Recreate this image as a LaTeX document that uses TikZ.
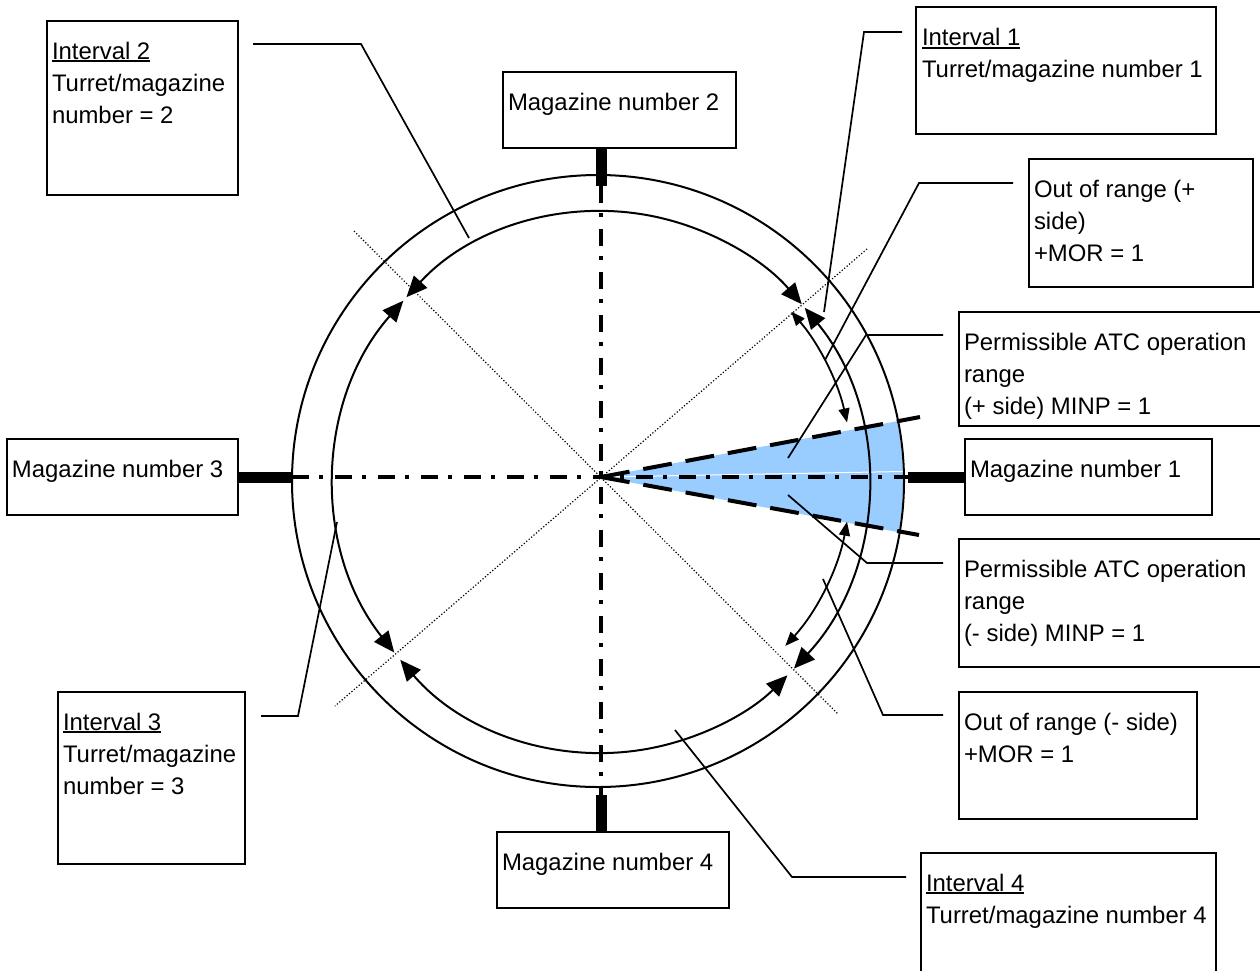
\documentclass[tikz,border=0pt]{standalone}
\usepackage{fontspec}
\setmainfont{Liberation Sans}
\usetikzlibrary{arrows.meta}
\definecolor{wedgeblue}{RGB}{153,204,255}
\newcommand{\ulr}[1]{\setbox0=\hbox{#1}\makebox[0pt][l]{\rule[-3pt]{\wd0}{1.8pt}}\box0}
\begin{document}
\begin{tikzpicture}[x=1pt,y=1pt,
  box/.style={draw,line width=1.8pt,anchor=north west,inner sep=0pt,outer sep=0pt},
  txt/.style={anchor=north west,inner sep=0pt,outer sep=0pt,align=left,font=\fontsize{23.9}{32}\selectfont},
  lead/.style={line width=1.7pt},
  ring/.style={line width=2pt},
  bigarr/.style={ring,{Triangle[length=21pt,width=18pt]}-{Triangle[length=21pt,width=18pt]}},
  smallarr/.style={line width=1.8pt,{Triangle[length=14pt,width=11pt]}-{Triangle[length=14pt,width=11pt]}},
  axisline/.style={line width=4pt,dash pattern=on 17pt off 10pt on 4pt off 12pt},
  limitline/.style={line width=4pt,dash pattern=on 29pt off 14pt},
  diag/.style={line width=1.2pt,dash pattern=on 1.2pt off 2pt},
  magbar/.style={line width=11pt},
]
\useasboundingbox (0,-970) rectangle (1260,0);
\coordinate (C) at (601,-482);
\coordinate (O) at (598,-481);
\coordinate (M) at (601,-477);

% blue wedge
\begin{scope}
  \clip (O) circle (305);
  \fill[wedgeblue] (M) -- (930,-415) -- (930,-538) -- cycle;
  \draw[white,line width=1pt] (M) -- (930,-471);
\end{scope}

% outer circle
\draw[ring] (O) circle (306);

% interval arcs
\draw[bigarr] ([shift={(137:266 and 271)}]C) arc[start angle=137,end angle=41,x radius=266,y radius=271];
\draw[bigarr] ([shift={(40:266 and 271)}]C) arc[start angle=40,end angle=-43.5,x radius=266,y radius=271];
\draw[bigarr] ([shift={(138:266 and 271)}]C) arc[start angle=138,end angle=219,x radius=266,y radius=271];
\draw[bigarr] ([shift={(221:266 and 271)}]C) arc[start angle=221,end angle=314.5,x radius=266,y radius=271];

% out of range arcs
\draw[smallarr] ([shift={(41:252)}]M) arc[start angle=41,end angle=12.5,radius=252];
\draw[smallarr] ([shift={(-10.3:250)}]M) arc[start angle=-10.3,end angle=-42.5,radius=250];

% dotted diagonals
\draw[diag] (354,-231) -- (838,-714);
\draw[diag] (867,-249) -- (335,-706);

% axes
\draw[axisline] (601,-186) -- (601,-795);
\draw[axisline] (292,-477) -- (908,-477);

% limit lines
\draw[limitline] (M) -- (920,-417);
\draw[limitline] (M) -- (919,-535);

% boxes
\node[box,minimum width=191pt,minimum height=174pt] (i2) at (47,-21) {};
\node[box,minimum width=300pt,minimum height=127pt] (i1) at (916,-7) {};
\node[box,minimum width=224pt,minimum height=128pt] (op) at (1029,-159) {};
\node[box,minimum width=305pt,minimum height=114pt] (pp) at (959,-312) {};
\node[box,minimum width=233pt,minimum height=76pt] (m2) at (503,-72) {};
\node[box,minimum width=247pt,minimum height=76pt] (m1) at (965,-439) {};
\node[box,minimum width=231pt,minimum height=76pt] (m3) at (7,-439) {};
\node[box,minimum width=232pt,minimum height=76pt] (m4) at (497,-832) {};
\node[box,minimum width=305pt,minimum height=128pt] (pm) at (959,-539) {};
\node[box,minimum width=238pt,minimum height=127pt] (om) at (959,-692) {};
\node[box,minimum width=187pt,minimum height=172pt] (i3) at (58,-692) {};
\node[box,minimum width=295pt,minimum height=137pt] (i4) at (921,-853) {};

% texts
\node[txt] (i2t) at ([shift={(5,-15.6)}]i2.north west) {\strut\ulr{Interval 2}\\\strut Turret/magazine\\\strut number = 2};
\node[txt] (i1t) at ([shift={(6,-16.5)}]i1.north west) {\strut\ulr{Interval 1}\\\strut Turret/magazine number 1};
\node[txt] (opt) at ([shift={(5,-16.5)}]op.north west) {\strut Out of range (+\\\strut side)\\\strut +MOR = 1};
\node[txt] (ppt) at ([shift={(5,-15.6)}]pp.north west) {\strut Permissible ATC operation\\\strut range\\\strut (+ side) MINP = 1};
\node[txt] (m2t) at ([shift={(5,-15.6)}]m2.north west) {\strut Magazine number 2};
\node[txt] (m1t) at ([shift={(5,-15.6)}]m1.north west) {\strut Magazine number 1};
\node[txt] (m3t) at ([shift={(5,-15.6)}]m3.north west) {\strut Magazine number 3};
\node[txt] (m4t) at ([shift={(5,-15.6)}]m4.north west) {\strut Magazine number 4};
\node[txt] (pmt) at ([shift={(5,-15.6)}]pm.north west) {\strut Permissible ATC operation\\\strut range\\\strut (- side) MINP = 1};
\node[txt] (omt) at ([shift={(5,-15.6)}]om.north west) {\strut Out of range (- side)\\\strut +MOR = 1};
\node[txt] (i3t) at ([shift={(5,-15.6)}]i3.north west) {\strut\ulr{Interval 3}\\\strut Turret/magazine\\\strut number = 3};
\node[txt] (i4t) at ([shift={(5,-15.6)}]i4.north west) {\strut\ulr{Interval 4}\\\strut Turret/magazine number 4};

% magazine bars
\draw[magbar] (m2.south -| M) -- ++(0,-38);
\draw[magbar] (m1.west |- M) -- ++(-57,0);
\draw[magbar] (m3.east |- M) -- ++(54,0);
\draw[magbar] (m4.north -| M) -- ++(0,37);

% leader lines
\coordinate (i2p) at (469,-238);
\coordinate (i1p) at (824,-312);
\coordinate (opp) at (825,-360);
\coordinate (ppp) at (788,-458);
\coordinate (pmp) at (788,-495);
\coordinate (omp) at (823,-579);
\coordinate (i4p) at (675,-730);
\coordinate (i3p) at (337,-522);
\draw[lead] ([shift={(15,-23)}]i2.north east) -- (361,-44) -- (i2p);
\draw[lead] ([shift={(-14,-25)}]i1.north west) -- (864,-32) -- (i1p);
\draw[lead] ([shift={(-16,-24)}]op.north west) -- (919,-183) -- (opp);
\draw[lead] ([shift={(-16,-23)}]pp.north west) -- (866,-335) -- (ppp);
\draw[lead] ([shift={(-16,-24)}]pm.north west) -- (867,-563) -- (pmp);
\draw[lead] ([shift={(-16,-23)}]om.north west) -- (883,-715) -- (omp);
\draw[lead] ([shift={(-15,-24)}]i4.north west) -- (792,-877) -- (i4p);
\draw[lead] ([shift={(16,-24)}]i3.north east) -- (298,-716) -- (i3p);
\end{tikzpicture}
\end{document}
